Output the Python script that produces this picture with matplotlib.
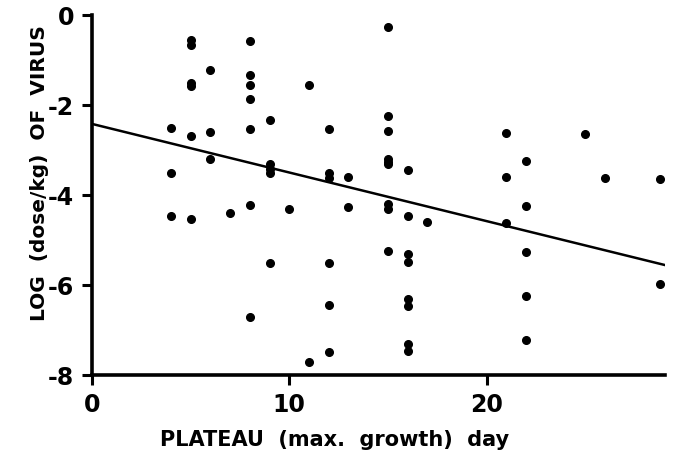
import matplotlib
matplotlib.use("Agg")
import matplotlib.pyplot as plt
import numpy as np

# plateau day vs log dose of virus
days = [
    4, 4, 4,
    5, 5, 5, 5, 5, 5,
    6, 6, 6,
    7,
    8, 8, 8, 8, 8, 8, 8,
    9, 9, 9, 9, 9,
    10,
    11, 11,
    12, 12, 12, 12, 12, 12,
    13, 13,
    15, 15, 15, 15, 15, 15, 15, 15, 15,
    16, 16, 16, 16, 16, 16, 16, 16,
    17,
    21, 21, 21,
    22, 22, 22, 22, 22,
    25, 26,
    28.8, 28.8,
]
log_dose = [
    -2.52, -3.51, -4.47,
    -0.56, -0.67, -1.50, -1.58, -2.68, -4.53,
    -1.23, -2.60, -3.21,
    -4.41,
    -0.58, -1.33, -1.56, -1.87, -2.54, -4.22, -6.70,
    -2.34, -3.30, -3.51, -5.50, -3.42,
    -4.32,
    -1.56, -7.71,
    -2.54, -3.50, -3.63, -5.50, -6.44, -7.49,
    -3.60, -4.27,
    -0.26, -2.24, -2.57, -3.21, -3.31, -4.21, -4.32, -5.24, -3.26,
    -3.45, -4.46, -5.31, -5.48, -6.30, -6.47, -7.30, -7.46,
    -4.61,
    -2.63, -3.59, -4.63,
    -3.24, -4.24, -5.26, -6.24, -7.22,
    -2.65, -3.63,
    -3.65, -5.98,
]

# fitted regression line
fit_intercept = -2.42
fit_slope = -0.108

x_ticks = [0, 10, 20]
y_ticks = [0, -2, -4, -6, -8]

plt.rcParams["font.family"] = ["DejaVu Sans"]

fig = plt.figure(figsize=(6.83, 4.63), dpi=100)
ax = fig.add_axes([0.1347, 0.190, 0.8389, 0.7776])

ax.plot(days, log_dose, "o", color="black", markersize=5.5, linestyle="none")

xmax = 29.04
fit_x = np.array([0, xmax])
ax.plot(fit_x, fit_intercept + fit_slope * fit_x, color="black", linewidth=1.8)

ax.set_xlim(0, xmax)
ax.set_ylim(-8, 0)
ax.set_xticks(x_ticks)
ax.set_yticks(y_ticks)
ax.set_xticklabels([str(t) for t in x_ticks], fontsize=17, fontweight="bold")
ax.set_yticklabels([str(t) for t in y_ticks], fontsize=17, fontweight="bold")

for side in ["top", "right"]:
    ax.spines[side].set_visible(False)
for side in ["left", "bottom"]:
    ax.spines[side].set_linewidth(2.6)
ax.tick_params(direction="out", length=7, width=2.2, pad=6)

fig.text(0.058, 0.627, "LOG  (dose/kg)  OF  VIRUS", rotation=90,
         ha="center", va="center", fontsize=14.5, fontweight="bold")
fig.text(0.49, 0.05, "PLATEAU  (max.  growth)  day",
         ha="center", va="center", fontsize=15, fontweight="bold")

fig.savefig("out.png", dpi=100, facecolor="white")
